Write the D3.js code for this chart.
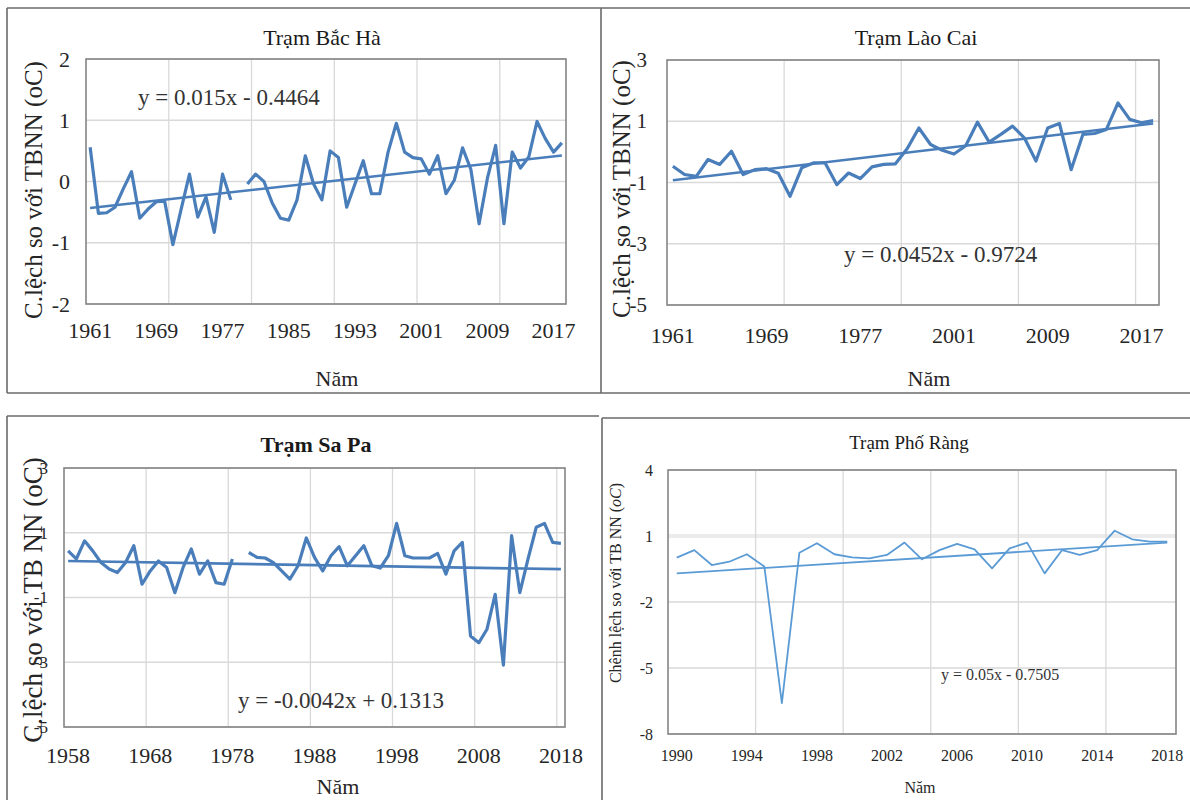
<!DOCTYPE html>
<html>
<head>
<meta charset="utf-8">
<script src="https://cdn.jsdelivr.net/npm/d3@7"></script>
<style>
body { margin: 0; background: #fff; }
svg { display: block; }
svg text { font-family: "Liberation Serif", "Times New Roman", serif; }
</style>
</head>
<body>
<div id="chart"></div>
<script>
// ---- Trạm Bắc Hà (1961-2018, 1979 missing)
var bacHaYears = d3.range(1961, 2019);
var bacHaValues = [0.56, -0.52, -0.51, -0.42, -0.12, 0.16, -0.6, -0.45, -0.33, -0.32,
    -1.03, -0.45, 0.12, -0.58, -0.25, -0.83, 0.12, -0.3, null, -0.04,
    0.12, 0.0, -0.35, -0.6, -0.63, -0.3, 0.42, -0.04, -0.3, 0.5,
    0.39, -0.42, -0.04, 0.34, -0.2, -0.2, 0.48, 0.95, 0.48, 0.39,
    0.37, 0.12, 0.42, -0.2, 0.02, 0.55, 0.2, -0.69, 0.05, 0.59,
    -0.69, 0.48, 0.22, 0.4, 0.98, 0.7, 0.48, 0.63];
var bacHaTrend = [0.015, -0.4464];
var bacHaTicks = [-2, -1, 0, 1, 2];

// ---- Trạm Lào Cai (category labels jump from 1984 to 2001)
var laoCaiYears = d3.range(1961, 1985).concat(d3.range(2001, 2019));
var laoCaiValues = [-0.47, -0.74, -0.8, -0.25, -0.41, 0.02, -0.74, -0.58, -0.55, -0.7,
    -1.45, -0.52, -0.36, -0.36, -1.07, -0.69, -0.87, -0.49, -0.41, -0.39,
    0.1, 0.78, 0.24, 0.05, -0.07, 0.2, 0.97, 0.32, 0.57, 0.84,
    0.46, -0.3, 0.78, 0.93, -0.58, 0.57, 0.6, 0.73, 1.6, 1.06,
    0.95, 1.02];
var laoCaiTrend = [0.0452, -0.9724];
var laoCaiTicks = [-5, -3, -1, 1, 3];

// ---- Trạm Sa Pa (1958-2018, 1979 missing)
var saPaYears = d3.range(1958, 2019);
var saPaValues = [0.44, 0.19, 0.75, 0.44, 0.08, -0.12, -0.23, 0.08, 0.6, -0.59,
    -0.18, 0.13, -0.07, -0.85, -0.07, 0.5, -0.28, 0.13, -0.54, -0.59,
    0.19, null, 0.39, 0.24, 0.22, 0.08, -0.18, -0.43, -0.02, 0.84,
    0.24, -0.18, 0.29, 0.57, -0.02, 0.29, 0.6, -0.02, -0.09, 0.29,
    1.29, 0.29, 0.22, 0.22, 0.22, 0.36, -0.28, 0.44, 0.7, -2.19,
    -2.4, -1.98, -0.9, -3.09, 0.91, -0.85, 0.19, 1.17, 1.29, 0.7,
    0.67];
var saPaTrend = [-0.0042, 0.1313];
var saPaTicks = [-5, -3, -1, 1, 3];

// ---- Trạm Phố Ràng (1990-2018)
var phoRangYears = d3.range(1990, 2019);
var phoRangValues = [0.02, 0.36, -0.32, -0.17, 0.17, -0.39, -6.6, 0.24, 0.67, 0.17,
    0.03, -0.02, 0.14, 0.7, -0.06, 0.36, 0.64, 0.39, -0.47, 0.44,
    0.7, -0.7, 0.36, 0.14, 0.36, 1.24, 0.85, 0.74, 0.74];
var phoRangTrend = [0.05, -0.7505];
var phoRangTicks = [-8, -5, -2, 1, 4];

var serif = "'Liberation Serif', 'Times New Roman', serif";
var svg = d3.select("#chart").append("svg").attr("width", 1190).attr("height", 800);

// panel frames (pasted screenshots)
var frames = [
    [7, 8, 1190, 8], [7, 393, 1190, 393], [7, 8, 7, 393], [601, 8, 601, 393],
    [7, 416, 599, 416], [7, 416, 7, 800], [602, 418, 1190, 418], [602, 418, 602, 800]
];
svg.selectAll("line.frame").data(frames).enter().append("line")
    .attr("class", "frame")
    .attr("x1", d => d[0]).attr("y1", d => d[1]).attr("x2", d => d[2]).attr("y2", d => d[3])
    .attr("stroke", "#6a6a6a").attr("stroke-width", 1.6);

var panels = [
    {
        cats: bacHaYears, vals: bacHaValues, trend: bacHaTrend, yDomain: [-2, 2], yTicks: bacHaTicks,
        left: 86, right: 566, top: 59, bottom: 304, gridEvery: 10, labelEvery: 8,
        color: "#4a7ebb", lineW: 3.2, trendW: 2.6, font: 22, tickFont: 22,
        title: "Trạm Bắc Hà", titleX: 322, titleY: 45, titleBold: false, titleSize: 22,
        tickRight: 70, xTickY: 338, yTitle: "C.lệch so với TBNN (oC)", yTitleX: 33, yTitleY: 190, yTitleSize: 25,
        xTitleX: 337, xTitleY: 386, eq: "y = 0.015x - 0.4464", eqX: 138, eqY: 105, eqSize: 23
    },
    {
        cats: laoCaiYears, vals: laoCaiValues, trend: laoCaiTrend, yDomain: [-5, 3], yTicks: laoCaiTicks,
        left: 667, right: 1159, top: 60, bottom: 305, gridEvery: 10, labelEvery: 8,
        color: "#4a7ebb", lineW: 3.2, trendW: 2.6, font: 22, tickFont: 21,
        title: "Trạm Lào Cai", titleX: 916, titleY: 45, titleBold: false, titleSize: 22,
        tickRight: 647, xTickY: 343, yTitle: "C.lệch so với TBNN (oC)", yTitleX: 621, yTitleY: 189, yTitleSize: 25,
        xTitleX: 929, xTitleY: 386, eq: "y = 0.0452x - 0.9724", eqX: 844, eqY: 262, eqSize: 23
    },
    {
        cats: saPaYears, vals: saPaValues, trend: saPaTrend, yDomain: [-5, 3], yTicks: saPaTicks,
        left: 64, right: 565, top: 468, bottom: 727, gridEvery: 10, labelEvery: 10,
        color: "#4a7ebb", lineW: 3.2, trendW: 2.6, font: 22, tickFont: 17,
        title: "Trạm Sa Pa", titleX: 316, titleY: 452, titleBold: true, titleSize: 22,
        tickRight: 48, xTickY: 763, yTitle: "C.lệch so với TB NN (oC)", yTitleX: 33, yTitleY: 600, yTitleSize: 27,
        xTitleX: 338, xTitleY: 794, eq: "y = -0.0042x + 0.1313", eqX: 238, eqY: 708, eqSize: 23
    },
    {
        cats: phoRangYears, vals: phoRangValues, trend: phoRangTrend, yDomain: [-8, 4], yTicks: phoRangTicks,
        left: 668, right: 1176, top: 470, bottom: 734, gridEvery: 5, labelEvery: 4,
        color: "#5b9bd5", lineW: 1.8, trendW: 1.8, font: 16, tickFont: 16, bandTick: 1,
        title: "Trạm Phố Ràng", titleX: 909, titleY: 449, titleBold: false, titleSize: 19,
        tickRight: 653, xTickY: 761, yTitle: "Chênh lệch so với TB NN (", yItalic: "oC", yTitleX: 615, yTitleY: 583, yTitleSize: 16,
        xTitleX: 920, xTitleY: 793, eq: "y = 0.05x - 0.7505", eqX: 941, eqY: 680, eqSize: 16
    }
];

panels.forEach(function (p) {
    var g = svg.append("g");
    var x = d3.scaleBand().domain(p.cats).range([p.left, p.right]);
    var y = d3.scaleLinear().domain(p.yDomain).range([p.bottom, p.top]);
    var half = x.bandwidth() / 2;

    // horizontal gridlines (one is drawn as a wider pale band in Phố Ràng)
    g.append("g").selectAll("line").data(p.yTicks).enter().append("line")
        .attr("x1", p.left).attr("x2", p.right)
        .attr("y1", d => y(d)).attr("y2", d => y(d))
        .attr("stroke", d => d === p.bandTick ? "#ebebeb" : "#d9d9d9")
        .attr("stroke-width", d => d === p.bandTick ? 4 : 1.3);

    // vertical gridlines on category boundaries
    var gridCats = p.cats.filter((d, i) => i > 0 && i % p.gridEvery == 0);
    g.append("g").selectAll("line").data(gridCats).enter().append("line")
        .attr("x1", d => x(d)).attr("x2", d => x(d))
        .attr("y1", p.top).attr("y2", p.bottom)
        .attr("stroke", "#d9d9d9").attr("stroke-width", 1.3);

    // plot area border
    g.append("rect")
        .attr("x", p.left).attr("y", p.top)
        .attr("width", p.right - p.left).attr("height", p.bottom - p.top)
        .attr("fill", "none").attr("stroke", "#858585").attr("stroke-width", 1.6);

    // x tick labels
    var xAxis = d3.axisBottom(x)
        .tickValues(p.cats.filter((d, i) => i % p.labelEvery == 0))
        .tickSize(0);
    var ax = g.append("g").attr("transform", "translate(0," + p.xTickY + ")").call(xAxis);
    ax.attr("font-family", null);
    ax.select(".domain").remove();
    ax.selectAll("text").attr("y", 0).attr("dy", 0)
        .style("font-size", p.font + "px").attr("fill", "#262626")
        .style("font-family", serif);

    // y tick labels
    var yAxis = d3.axisLeft(y).tickValues(p.yTicks).tickSize(0).tickFormat(d => String(d));
    var ay = g.append("g").attr("transform", "translate(" + p.tickRight + ",0)").call(yAxis);
    ay.attr("font-family", null);
    ay.select(".domain").remove();
    ay.selectAll("text").attr("x", 0)
        .style("font-size", p.tickFont + "px").attr("fill", "#262626")
        .style("font-family", serif);

    // data line
    var pts = p.cats.map((c, i) => ({ c: c, v: p.vals[i] }));
    var line = d3.line().defined(d => d.v != null).x(d => x(d.c) + half).y(d => y(d.v));
    g.append("path").datum(pts)
        .attr("d", line)
        .attr("fill", "none").attr("stroke", p.color)
        .attr("stroke-width", p.lineW).attr("stroke-linejoin", "round");

    // linear trend from the printed equation
    var n = p.cats.length;
    var tr = [0, n - 1].map(i => ({ c: p.cats[i], v: p.trend[0] * (i + 1) + p.trend[1] }));
    g.append("path").datum(tr)
        .attr("d", line)
        .attr("fill", "none").attr("stroke", p.color).attr("stroke-width", p.trendW);

    // title
    g.append("text")
        .attr("x", p.titleX).attr("y", p.titleY)
        .attr("text-anchor", "middle")
        .style("font-family", serif)
        .style("font-size", p.titleSize + "px")
        .style("font-weight", p.titleBold ? "bold" : "normal")
        .attr("fill", "#1a1a1a")
        .text(p.title);

    // y axis title
    var yt = g.append("text")
        .attr("transform", "translate(" + p.yTitleX + "," + p.yTitleY + ") rotate(-90)")
        .attr("text-anchor", "middle").attr("dy", "0.35em")
        .style("font-family", serif)
        .style("font-size", p.yTitleSize + "px").attr("fill", "#262626")
        .text(p.yTitle);
    if (p.yItalic) {
        yt.append("tspan").style("font-style", "italic").text(p.yItalic);
        yt.append("tspan").text(")");
    }

    // x axis title
    g.append("text")
        .attr("x", p.xTitleX).attr("y", p.xTitleY)
        .attr("text-anchor", "middle")
        .style("font-family", serif)
        .style("font-size", p.font + "px").attr("fill", "#262626")
        .text("Năm");

    // equation
    g.append("text")
        .attr("x", p.eqX).attr("y", p.eqY)
        .style("font-family", serif)
        .style("font-size", p.eqSize + "px").attr("fill", "#333")
        .text(p.eq);
});
</script>
</body>
</html>
